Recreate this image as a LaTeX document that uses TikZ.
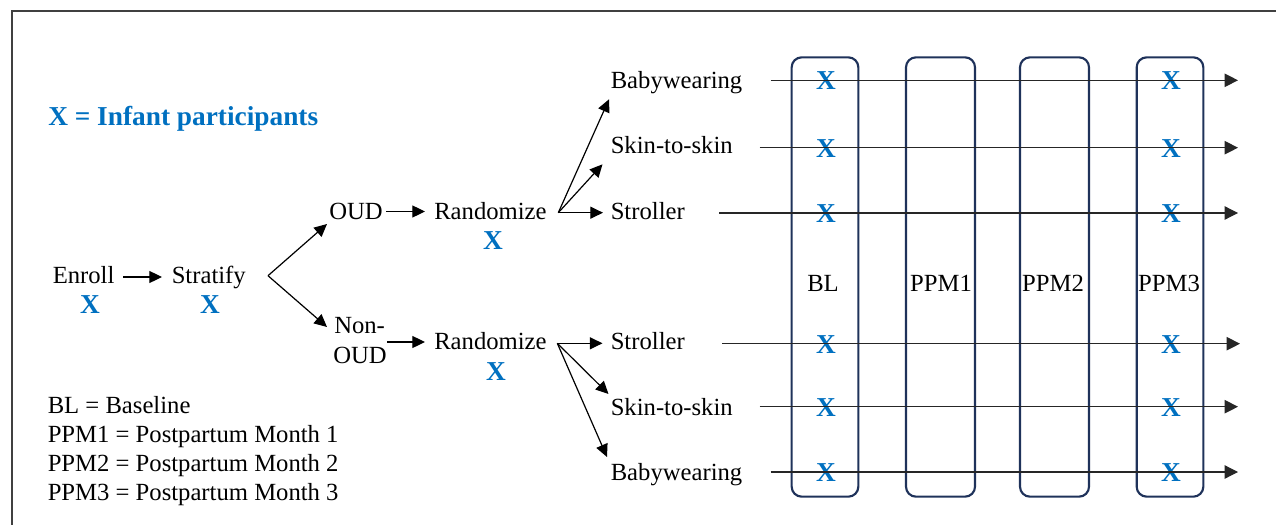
\documentclass[tikz,border=0pt]{standalone}
\usepackage{fontspec}
\setmainfont{Liberation Serif}
\newfontfamily\tnr{Liberation Serif}
\usetikzlibrary{arrows.meta}
\definecolor{xblue}{RGB}{0,112,192}
\definecolor{boxnavy}{RGB}{31,50,90}
\definecolor{framegray}{RGB}{64,64,64}
\tikzset{
  txt/.style={anchor=base west,inner sep=0pt,font=\tnr\fontsize{18.5}{22}\selectfont},
  ctxt/.style={anchor=base,inner sep=0pt,font=\tnr\fontsize{18.5}{22}\selectfont},
  xmark/.style={anchor=base,inner sep=0pt,text=xblue,font=\tnr\fontsize{20.5}{24}\selectfont\bfseries},
  xmid/.style={anchor=center,inner sep=0pt,text=xblue,font=\tnr\fontsize{20.5}{24}\selectfont\bfseries},
  arr/.style={-{Triangle[length=9.5pt,width=9pt]},line width=0.9pt,black},
  tline/.style={-{Triangle[length=10pt,width=10pt]},line width=0.9pt,black!85},
  period/.style={draw=boxnavy,line width=1.6pt,rounded corners=7.5pt,inner sep=0pt,minimum height=329.5pt}
}
\begin{document}
\begin{tikzpicture}[x=0.75pt,y=-0.75pt]
\useasboundingbox (0,0) rectangle (1276,524);
% frame (extends beyond the picture on the right and bottom)
\coordinate (fbl) at (12,530);
\coordinate (ftl) at (12,11);
\coordinate (ftr) at (1282,11);
\draw[framegray,line width=1.2pt] (fbl) -- (ftl) -- (ftr);

% legend
\node[anchor=base west,inner sep=0pt,text=xblue,font=\tnr\fontsize{20.5}{24}\selectfont\bfseries] (key) at (48,126) {X = Infant participants};
\node[txt] (lg1) at (47.5,413) {BL = Baseline};
\node[txt] (lg2) at (47.5,442) {PPM1 = Postpartum Month 1};
\node[txt] (lg3) at (47.5,471) {PPM2 = Postpartum Month 2};
\node[txt] (lg4) at (47.5,500) {PPM3 = Postpartum Month 3};

% period boxes
\node[period,minimum width=50pt] (bl) at (825,277) {};
\node[period,minimum width=51.75pt] (ppm1) at (940.5,277) {};
\node[period,minimum width=51.75pt] (ppm2) at (1054.5,277) {};
\node[period,minimum width=50pt] (ppm3) at (1170,277) {};
\node[ctxt] (bllab) at (823,291) {BL};
\node[ctxt] (ppm1lab) at (941,291) {PPM1};
\node[ctxt] (ppm2lab) at (1053,291) {PPM2};
\node[ctxt] (ppm3lab) at (1169,291) {PPM3};

% flow
\node[txt] (enroll) at (52.5,283.5) {Enroll};
\node[xmark] (xenroll) at (90,313.5) {X};
\node[txt] (stratify) at (171.5,283.5) {Stratify};
\node[xmark] (xstratify) at (210,313.5) {X};
\node[txt] (oud) at (329,219) {OUD};
\node[txt] (nonoud1) at (334,333.5) {Non-};
\node[txt] (nonoud2) at (333,363.5) {OUD};
\node[txt] (randA) at (434,219) {Randomize};
\node[xmark] (xrandA) at (493,249.5) {X};
\node[txt] (randB) at (434,349.5) {Randomize};
\node[xmark] (xrandB) at (496,380) {X};

\node[txt] (a1) at (610.5,88.5) {Babywearing};
\node[txt] (a2) at (610.5,153.5) {Skin-to-skin};
\node[txt] (a3) at (610.5,219.5) {Stroller};
\node[txt] (b1) at (610.5,349.5) {Stroller};
\node[txt] (b2) at (610.5,415) {Skin-to-skin};
\node[txt] (b3) at (610.5,480) {Babywearing};

% connector endpoints
\coordinate (enE) at (123,277);
\coordinate (stW) at (162,277);
\coordinate (stE) at (268,275.7);
\coordinate (oudW) at (327,224);
\coordinate (nonW) at (327,327);
\coordinate (oudE) at (386,211.5);
\coordinate (raAW) at (425,211.5);
\coordinate (nonE) at (387,342);
\coordinate (raBW) at (425,342);
\coordinate (raAE) at (558.3,212.7);
\coordinate (raBE) at (557.3,343.3);
\coordinate (a1W) at (609,99.3);
\coordinate (a2W) at (602.5,164.3);
\coordinate (a3W) at (603,212.7);
\coordinate (b1W) at (602.5,343.3);
\coordinate (b2W) at (608.5,394);
\coordinate (b3W) at (607,457);

\draw[arr] (enE) -- (stW);
\draw[arr] (stE) -- (oudW);
\draw[arr] (stE) -- (nonW);
\draw[arr] (oudE) -- (raAW);
\draw[arr] (nonE) -- (raBW);
\draw[arr] (raAE) -- (a1W);
\draw[arr] (raAE) -- (a2W);
\draw[arr] (raAE) -- (a3W);
\draw[arr] (raBE) -- (b1W);
\draw[arr] (raBE) -- (b2W);
\draw[arr] (raBE) -- (b3W);

% X marks at BL and PPM3
\foreach \i/\y in {1/80.3,2/147.7,3/213,4/343.7,5/406.7,6/472}{
  \node[xmid] (xbl\i) at (826,\y+0.5) {X};
  \node[xmid] (xppm\i) at (1171,\y+0.5) {X};
}

% timelines
\coordinate (t1s) at (770.7,80.3);   \coordinate (t1e) at (1238,80.3);
\coordinate (t2s) at (759.7,147.7);  \coordinate (t2e) at (1238,147.7);
\coordinate (t3s) at (719.3,213);    \coordinate (t3e) at (1238,213);
\coordinate (t4s) at (722,343.7);    \coordinate (t4e) at (1240,343.7);
\coordinate (t5s) at (759.7,406.7);  \coordinate (t5e) at (1238,406.7);
\coordinate (t6s) at (770.7,472);    \coordinate (t6e) at (1238,472);
\foreach \i in {1,...,6}{\draw[tline] (t\i s) -- (t\i e);}
\end{tikzpicture}
\end{document}
